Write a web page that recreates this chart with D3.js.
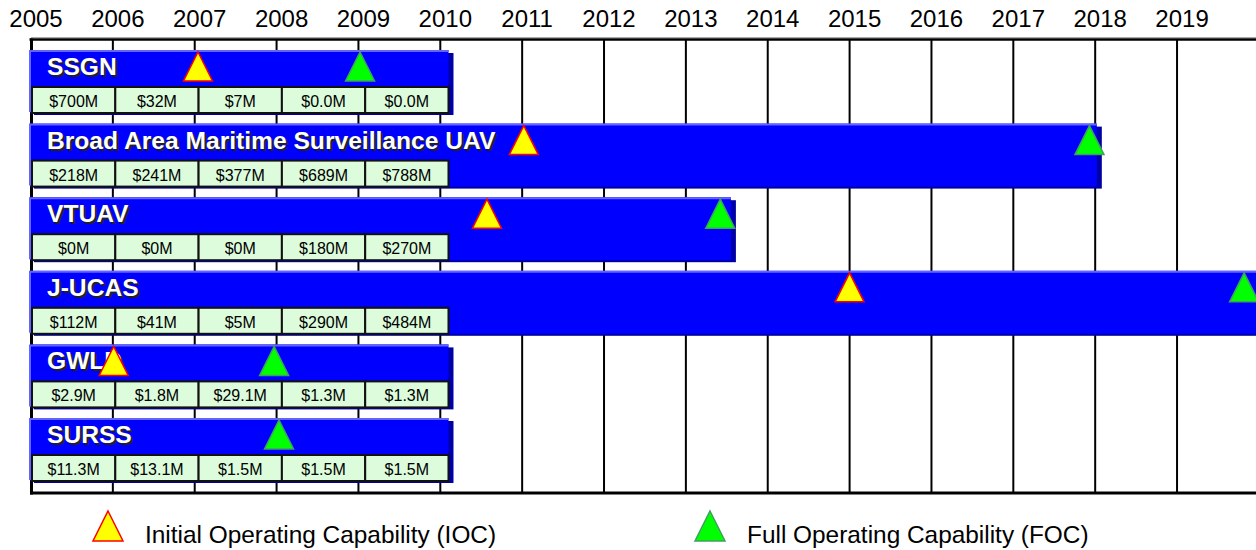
<!DOCTYPE html>
<html>
<head>
<meta charset="utf-8">
<script src="https://cdn.jsdelivr.net/npm/d3@7"></script>
<style>
  body { margin: 0; background: #fff; }
  svg { display: block; font-family: "Liberation Sans", Arial, sans-serif; }
</style>
</head>
<body>
<div id="chart"></div>
<script>
// programs, one row each
var programs = ["SSGN", "Broad Area Maritime Surveillance UAV", "VTUAV", "J-UCAS", "GWLD", "SURSS"];
// where each program bar ends (year)
var barEnd = [2010.1, 2018.02, 2013.55, 2021, 2010.1, 2010.1];
// milestones (year), null = none shown
var iocYear = [2007.04, 2011.02, 2010.57, 2015.0, 2006.01, null];
var focYear = [2009.02, 2017.93, 2013.42, 2019.82, 2007.97, 2008.03];
// funding boxes under each title
var fundYears = ["FY05", "FY06", "FY07", "FY08", "FY09"];
var funding = [
  ["$700M", "$32M", "$7M", "$0.0M", "$0.0M"],
  ["$218M", "$241M", "$377M", "$689M", "$788M"],
  ["$0M", "$0M", "$0M", "$180M", "$270M"],
  ["$112M", "$41M", "$5M", "$290M", "$484M"],
  ["$2.9M", "$1.8M", "$29.1M", "$1.3M", "$1.3M"],
  ["$11.3M", "$13.1M", "$1.5M", "$1.5M", "$1.5M"]
];
var years = d3.range(2005, 2020);
var legendItems = ["Initial Operating Capability (IOC)", "Full Operating Capability (FOC)"];

var width = 1256, height = 550;
var plotTop = 39, plotBottom = 493;
var barH = 64;

var x = d3.scaleLinear().domain([2005, 2020]).range([31, 31 + 15 * 81.86]);
var y = d3.scaleBand().domain(programs).range([50, 50 + 6 * 73.6]);
var cellX = d3.scaleBand().domain(fundYears).range([x(2005) + 1, x(2010.1)]);

var svg = d3.select("#chart").append("svg")
    .attr("width", width)
    .attr("height", height);

// year labels
svg.selectAll("text.year")
    .data(years)
  .enter().append("text")
    .attr("class", "year")
    .attr("x", function(d) { return x(d) + 5; })
    .attr("y", 27)
    .attr("text-anchor", "middle")
    .attr("font-size", "24px")
    .attr("fill", "#000")
    .text(function(d) { return d; });

// frame + grid
svg.append("line")
    .attr("x1", x(2005)).attr("x2", width)
    .attr("y1", 37.5).attr("y2", 37.5)
    .attr("stroke", "#aaa").attr("stroke-width", 1);
svg.append("line")
    .attr("x1", x(2005) - 1.5).attr("x2", width)
    .attr("y1", plotTop + 0.5).attr("y2", plotTop + 0.5)
    .attr("stroke", "#000").attr("stroke-width", 2.5);
svg.selectAll("line.grid")
    .data(years.slice(1))
  .enter().append("line")
    .attr("class", "grid")
    .attr("x1", function(d) { return x(d); })
    .attr("x2", function(d) { return x(d); })
    .attr("y1", plotTop).attr("y2", plotBottom)
    .attr("stroke", "#000").attr("stroke-width", 2);
svg.append("line")
    .attr("x1", x(2005) + 0.5).attr("x2", x(2005) + 0.5)
    .attr("y1", plotTop - 0.5).attr("y2", plotBottom + 1.5)
    .attr("stroke", "#000").attr("stroke-width", 3);
svg.append("line")
    .attr("x1", x(2005) - 1).attr("x2", width)
    .attr("y1", plotBottom).attr("y2", plotBottom)
    .attr("stroke", "#000").attr("stroke-width", 3);

function triangle(cx, ty, size) {
  return "M" + cx + "," + ty + "L" + (cx + size / 2) + "," + (ty + size) + "L" + (cx - size / 2) + "," + (ty + size) + "Z";
}

var rows = svg.selectAll("g.row")
    .data(programs)
  .enter().append("g")
    .attr("class", "row")
    .attr("transform", function(d) { return "translate(0," + y(d) + ")"; });

// drop shadow, body, light bevel
rows.append("rect")
    .attr("x", x(2005) + 3)
    .attr("y", 3)
    .attr("width", function(d, i) { return x(barEnd[i]) - x(2005) + 2; })
    .attr("height", barH - 2)
    .attr("fill", "#0000a8");
rows.append("rect")
    .attr("x", x(2005) - 1)
    .attr("y", 0)
    .attr("width", function(d, i) { return x(barEnd[i]) - x(2005) + 1; })
    .attr("height", barH - 1)
    .attr("fill", "#0000ff");
rows.append("path")
    .attr("d", function(d, i) {
      return "M" + (x(2005) - 1) + "," + (barH - 2) + "V1H" + x(barEnd[i]);
    })
    .attr("fill", "none")
    .attr("stroke", "#6464ff")
    .attr("stroke-width", 2);

// funding cells
rows.each(function(d, i) {
  var g = d3.select(this);
  var cells = g.selectAll("g.cell")
      .data(funding[i])
    .enter().append("g")
      .attr("class", "cell")
      .attr("transform", function(v, j) { return "translate(" + cellX(fundYears[j]) + ",37)"; });
  cells.append("rect")
      .attr("width", cellX.bandwidth())
      .attr("height", 26)
      .attr("fill", "#dcfcdc")
      .attr("stroke", "#111")
      .attr("stroke-width", 2);
  cells.append("text")
      .attr("x", cellX.bandwidth() / 2)
      .attr("y", 20)
      .attr("text-anchor", "middle")
      .attr("font-size", "16px")
      .attr("fill", "#000")
      .text(function(v) { return v; });
});

// titles with shadow
rows.append("text")
    .attr("x", 49).attr("y", 27)
    .attr("font-size", "24.6px").attr("font-weight", "bold")
    .attr("fill", "#222")
    .text(function(d) { return d; });
rows.append("text")
    .attr("x", 47).attr("y", 25)
    .attr("font-size", "24.6px").attr("font-weight", "bold")
    .attr("fill", "#fff")
    .text(function(d) { return d; });

// milestones
rows.filter(function(d, i) { return iocYear[i] != null; })
  .append("path")
    .attr("d", function(d) { var i = programs.indexOf(d); return triangle(x(iocYear[i]), 2, 29); })
    .attr("fill", "#ffff00")
    .attr("stroke", "#ff0000")
    .attr("stroke-width", 1.5);
rows.filter(function(d, i) { return focYear[i] != null; })
  .append("path")
    .attr("d", function(d) { var i = programs.indexOf(d); return triangle(x(focYear[i]), 2, 29); })
    .attr("fill", "#00ff00")
    .attr("stroke", "#40a060")
    .attr("stroke-width", 1.5);

// legend
var legend = svg.selectAll("g.legend")
    .data(legendItems)
  .enter().append("g")
    .attr("class", "legend")
    .attr("transform", function(d, i) { return "translate(" + [108, 710][i] + ",0)"; });
legend.append("path")
    .attr("d", triangle(0, 511, 30))
    .attr("fill", function(d, i) { return i == 0 ? "#ffff00" : "#00ff00"; })
    .attr("stroke", function(d, i) { return i == 0 ? "#ff0000" : "#40a060"; })
    .attr("stroke-width", 1.5);
legend.append("text")
    .attr("x", 37).attr("y", 543)
    .attr("font-size", "24.4px")
    .attr("fill", "#000")
    .text(function(d) { return d; });
</script>
</body>
</html>
